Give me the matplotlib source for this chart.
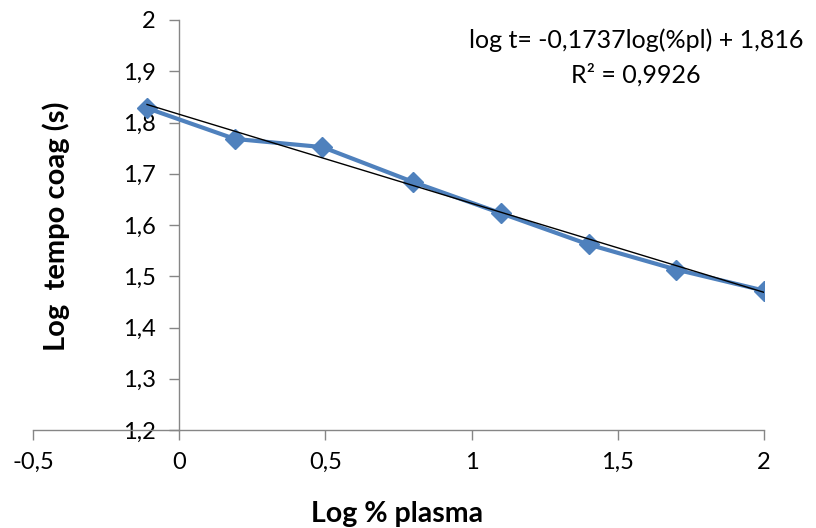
import numpy as np
import matplotlib
matplotlib.use("Agg")
import matplotlib.pyplot as plt

# Clotting time vs. plasma dilution (log-log)
log_plasma = [-0.11, 0.19, 0.49, 0.80, 1.10, 1.40, 1.70, 2.00]
log_time = [1.828, 1.768, 1.752, 1.684, 1.623, 1.562, 1.513, 1.472]

# Linear fit reported on the chart
slope = -0.1737
intercept = 1.816
r_squared = 0.9926

x_ticks = [-0.5, 0, 0.5, 1, 1.5, 2]
y_ticks = [1.2, 1.3, 1.4, 1.5, 1.6, 1.7, 1.8, 1.9, 2.0]

def comma(v):
    s = f"{v:g}"
    return s.replace(".", ",")

plt.rcParams["font.family"] = ["Lato", "DejaVu Sans"]

fig = plt.figure(figsize=(8.16, 5.28), dpi=100)
ax = fig.add_axes([33 / 816, 1 - 430 / 528, (764 - 33) / 816, (430 - 20) / 528])

ax.plot(log_plasma, log_time, color="#4F81BD", lw=3.0, marker="D",
        markersize=10, markeredgecolor="#4F81BD", zorder=3)

xfit = np.array([min(log_plasma), max(log_plasma)])
ax.plot(xfit, slope * xfit + intercept, color="black", lw=1.0, zorder=4)

ax.set_xlim(-0.5, 2.0)
ax.set_ylim(1.2, 2.0)
ax.set_xticks(x_ticks)
ax.set_yticks(y_ticks)
ax.set_xticklabels([comma(v) for v in x_ticks])
ax.set_yticklabels([comma(v) for v in y_ticks])

for s in ("top", "right"):
    ax.spines[s].set_visible(False)
ax.spines["left"].set_position(("data", 0))
for s in ("left", "bottom"):
    ax.spines[s].set_color("#868686")
    ax.spines[s].set_linewidth(1.0)

ax.tick_params(axis="both", colors="#868686", labelcolor="black",
               labelsize=17, direction="out", length=7, width=1.0)
ax.tick_params(axis="y", pad=10)
ax.tick_params(axis="x", pad=9)
ax.set_facecolor("none")

ax.text(636 / 816, 1 - 40 / 528, "log t= -0,1737log(%pl) + 1,816",
        transform=fig.transFigure, ha="center", va="center", fontsize=18)
ax.text(636 / 816, 1 - 75 / 528, f"R² = {comma(r_squared)}",
        transform=fig.transFigure, ha="center", va="center", fontsize=18)

fig.text(56 / 816, 1 - 226 / 528, "Log  tempo coag (s)", rotation=90,
         rotation_mode="anchor", ha="center", va="center",
         fontsize=21, fontweight="bold")
fig.text(397 / 816, 1 - 514 / 528, "Log % plasma",
         ha="center", va="center", fontsize=20.5, fontweight="bold")

fig.savefig("out.png", dpi=100)
